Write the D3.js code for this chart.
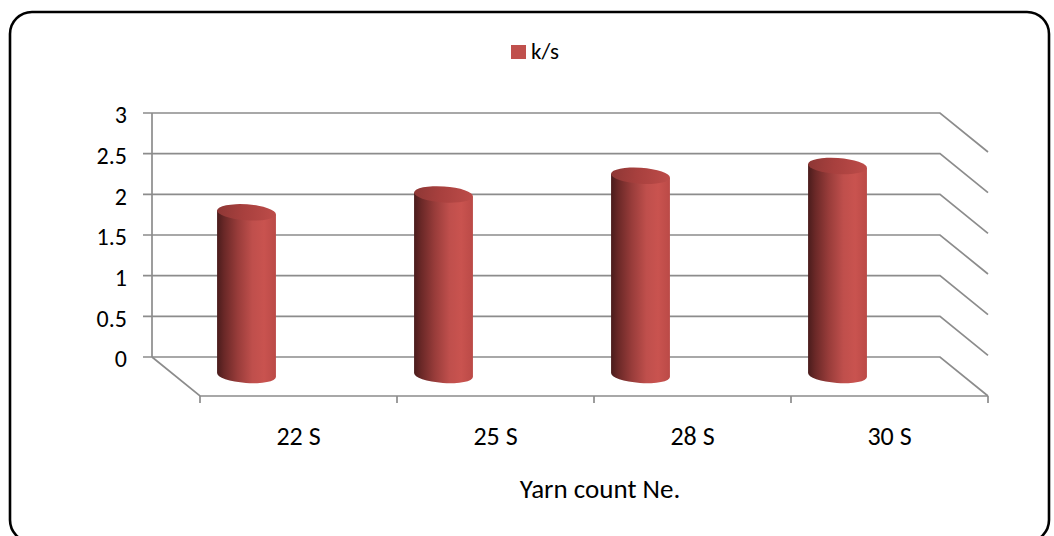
<!DOCTYPE html>
<html>
<head>
<meta charset="utf-8">
<script src="https://cdn.jsdelivr.net/npm/d3@7"></script>
<style>
  html, body { margin: 0; padding: 0; background: #fff; }
  svg { display: block; font-family: Calibri, Carlito, Lato, "Open Sans", sans-serif; }
</style>
</head>
<body>
<svg id="chart" width="1054" height="536"></svg>
<script>
// Chart data
const categories = ["22 S", "25 S", "28 S", "30 S"];
const seriesName = "k/s";
const ksValues = [2.0, 2.22, 2.45, 2.57];
const yTicks = [0, 0.5, 1, 1.5, 2, 2.5, 3];
const xTitle = "Yarn count Ne.";

const svg = d3.select("#chart");

// Back wall geometry and depth projection of the 3-D floor
const wall = { left: 152, right: 940, top: 113, bottom: 357 };
const depth = { dx: 48, dy: 39 };
const barShift = { dx: -4, dy: 18 };
const gridColor = "#8c8c8c";

const y = d3.scaleLinear().domain([0, 3]).range([wall.bottom, wall.top]);
const x = d3.scaleBand().domain(categories).range([wall.left, wall.right]).padding(0);

// Outer rounded frame
svg.append("rect")
  .attr("x", 10).attr("y", 12).attr("width", 1039).attr("height", 530)
  .attr("rx", 22).attr("ry", 22)
  .attr("fill", "#fff").attr("stroke", "#000").attr("stroke-width", 2.6);

// Gradients for cylinder body and top
const defs = svg.append("defs");
const bodyGrad = defs.append("linearGradient").attr("id", "cylBody")
  .attr("x1", "0%").attr("x2", "100%").attr("y1", "0%").attr("y2", "0%");
[["0%", "#4a1c1c"], ["12%", "#6a2827"], ["35%", "#983c3a"], ["60%", "#bf4f4c"], ["80%", "#c9534f"], ["100%", "#bb4a47"]]
  .forEach(([o, c]) => bodyGrad.append("stop").attr("offset", o).attr("stop-color", c));
const topGrad = defs.append("linearGradient").attr("id", "cylTop")
  .attr("x1", "0%").attr("x2", "100%").attr("y1", "0%").attr("y2", "0%");
[["0%", "#8e3735"], ["45%", "#a8403e"], ["100%", "#bd4c49"]]
  .forEach(([o, c]) => topGrad.append("stop").attr("offset", o).attr("stop-color", c));

// Gridlines on back wall with their return along the right side wall
const grid = svg.append("g");
yTicks.forEach(t => {
  const yy = y(t);
  grid.append("path")
    .attr("d", `M${wall.left - 9},${yy}H${wall.right}L${wall.right + depth.dx},${yy + depth.dy}`)
    .attr("fill", "none").attr("stroke", gridColor).attr("stroke-width", 1.7);
});

// Left wall axis line
grid.append("line")
  .attr("x1", wall.left).attr("x2", wall.left)
  .attr("y1", wall.top).attr("y2", wall.bottom)
  .attr("stroke", gridColor).attr("stroke-width", 1.7);

// Floor: left return edge and front edge with category ticks
const floorY = wall.bottom + depth.dy;
grid.append("path")
  .attr("d", `M${wall.left},${wall.bottom}L${wall.left + depth.dx},${floorY}H${wall.right + depth.dx}`)
  .attr("fill", "none").attr("stroke", gridColor).attr("stroke-width", 1.7);

const xFront = d3.scaleBand().domain(categories)
  .range([wall.left + depth.dx, wall.right + depth.dx]);
const tickXs = categories.map(c => xFront(c)).concat([wall.right + depth.dx]);
tickXs.forEach(tx => {
  grid.append("line")
    .attr("x1", tx).attr("x2", tx).attr("y1", floorY).attr("y2", floorY + 7)
    .attr("stroke", gridColor).attr("stroke-width", 1.7);
});

// Y tick labels
svg.append("g").selectAll("text").data(yTicks).join("text")
  .attr("x", 127).attr("y", d => y(d) + 2).attr("dy", "0.35em")
  .attr("text-anchor", "end").attr("font-size", 24).attr("fill", "#000")
  .text(d => d);

// X category labels
svg.append("g").selectAll("text").data(categories).join("text")
  .attr("x", d => xFront(d) + xFront.bandwidth() / 2)
  .attr("y", 445).attr("text-anchor", "middle")
  .attr("font-size", 26).attr("fill", "#000")
  .text(d => d);

// Axis title
svg.append("text")
  .attr("x", 600).attr("y", 498).attr("text-anchor", "middle")
  .attr("font-size", 27).attr("fill", "#000").text(xTitle);

// Legend
const legend = svg.append("g");
legend.append("rect").attr("x", 511).attr("y", 45).attr("width", 15).attr("height", 14)
  .attr("fill", "#c0504d");
legend.append("text").attr("x", 531).attr("y", 59)
  .attr("font-size", 23).attr("fill", "#000").text(seriesName);

// Cylinders
const rx = 29.5, ry = 8, tilt = 4;
const rad = tilt * Math.PI / 180;
const ex = rx * Math.cos(rad), ey = rx * Math.sin(rad);
const bars = svg.append("g");
categories.forEach((c, i) => {
  const cx = x(c) + x.bandwidth() / 2 + barShift.dx;
  const yBase = y(0) + barShift.dy;
  const yTop = y(ksValues[i]) + barShift.dy;
  const body = `M${cx - ex},${yTop - ey}` +
    `L${cx - ex},${yBase - ey}` +
    `A${rx},${ry} ${tilt} 0 0 ${cx + ex},${yBase + ey}` +
    `L${cx + ex},${yTop + ey}Z`;
  bars.append("path").attr("d", body).attr("fill", "url(#cylBody)");
  bars.append("ellipse")
    .attr("cx", 0).attr("cy", 0).attr("rx", rx).attr("ry", ry)
    .attr("transform", `translate(${cx},${yTop}) rotate(${tilt})`)
    .attr("fill", "url(#cylTop)");
});
</script>
</body>
</html>
